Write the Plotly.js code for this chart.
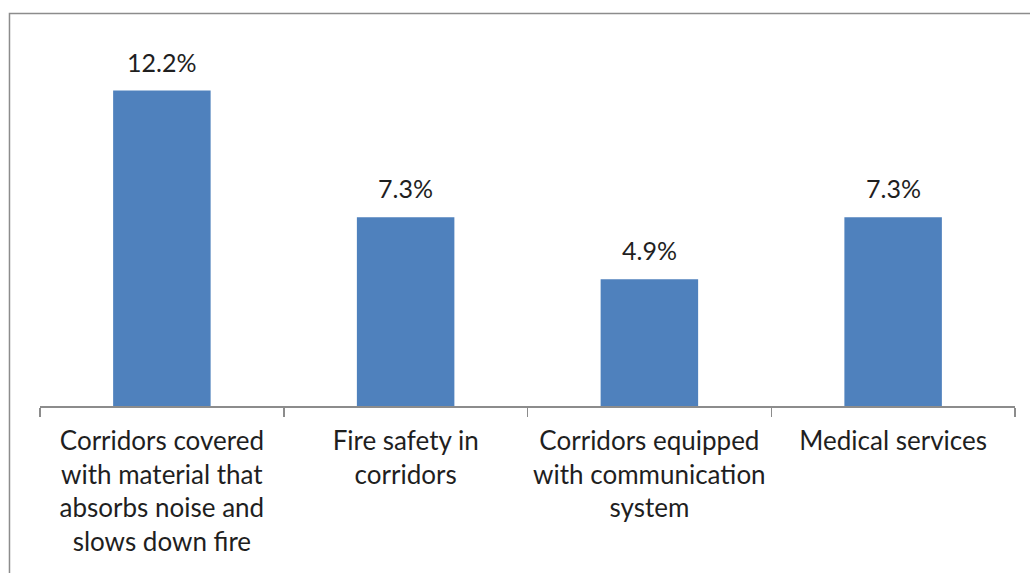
<!DOCTYPE html>
<html>
<head>
<meta charset="utf-8">
<script src="https://cdn.plot.ly/plotly-3.0.1.min.js"></script>
<style>
  html, body { margin: 0; padding: 0; background: #ffffff; }
  #chart { width: 1030px; height: 573px; }
</style>
</head>
<body>
<div id="chart"></div>
<script>
// Data
const categories = [
  "Corridors covered<br>with material that<br>absorbs noise and<br>slows down fire",
  "Fire safety in<br>corridors",
  "Corridors equipped<br>with communication<br>system",
  "Medical services"
];
const values = [12.2, 7.3, 4.9, 7.3];
const valueLabels = ["12.2%", "7.3%", "4.9%", "7.3%"];

const FONT = "Lato, Calibri, Carlito, 'Open Sans', sans-serif";
const TEXT_COLOR = "#1f1f1f";

const trace = {
  type: "bar",
  x: categories,
  y: values,
  marker: { color: "#4F81BD", line: { width: 0 } },
  hoverinfo: "skip"
};

const annotations = categories.map((c, i) => ({
  x: c,
  y: values[i],
  xref: "x",
  yref: "y",
  text: valueLabels[i],
  showarrow: false,
  yanchor: "middle",
  yshift: 29,
  font: { family: FONT, size: 25, color: TEXT_COLOR }
}));

const layout = {
  width: 1030,
  height: 573,
  margin: { l: 40, r: 15, t: 44, b: 167, pad: 0 },
  paper_bgcolor: "#ffffff",
  plot_bgcolor: "#ffffff",
  showlegend: false,
  bargap: 0.6,
  xaxis: {
    type: "category",
    showline: true,
    linecolor: "#8c8c8c",
    linewidth: 1.5,
    ticks: "outside",
    tickson: "boundaries",
    ticklen: 9,
    tickwidth: 1.5,
    tickcolor: "#8c8c8c",
    ticklabelstandoff: 11,
    showgrid: false,
    zeroline: false,
    tickangle: 0,
    tickfont: { family: FONT, size: 26, color: TEXT_COLOR },
    fixedrange: true
  },
  yaxis: {
    range: [0, 14],
    visible: false,
    showgrid: false,
    zeroline: false,
    fixedrange: true
  },
  annotations: annotations,
  shapes: [{
    type: "rect",
    xref: "paper",
    yref: "paper",
    x0: -0.0313,
    x1: 1.2,
    y0: -0.6,
    y1: 1.084,
    line: { color: "#8c8c8c", width: 1.5 },
    fillcolor: "rgba(0,0,0,0)",
    layer: "below"
  }]
};

Plotly.newPlot("chart", [trace], layout, { displayModeBar: false, staticPlot: true });
</script>
</body>
</html>
